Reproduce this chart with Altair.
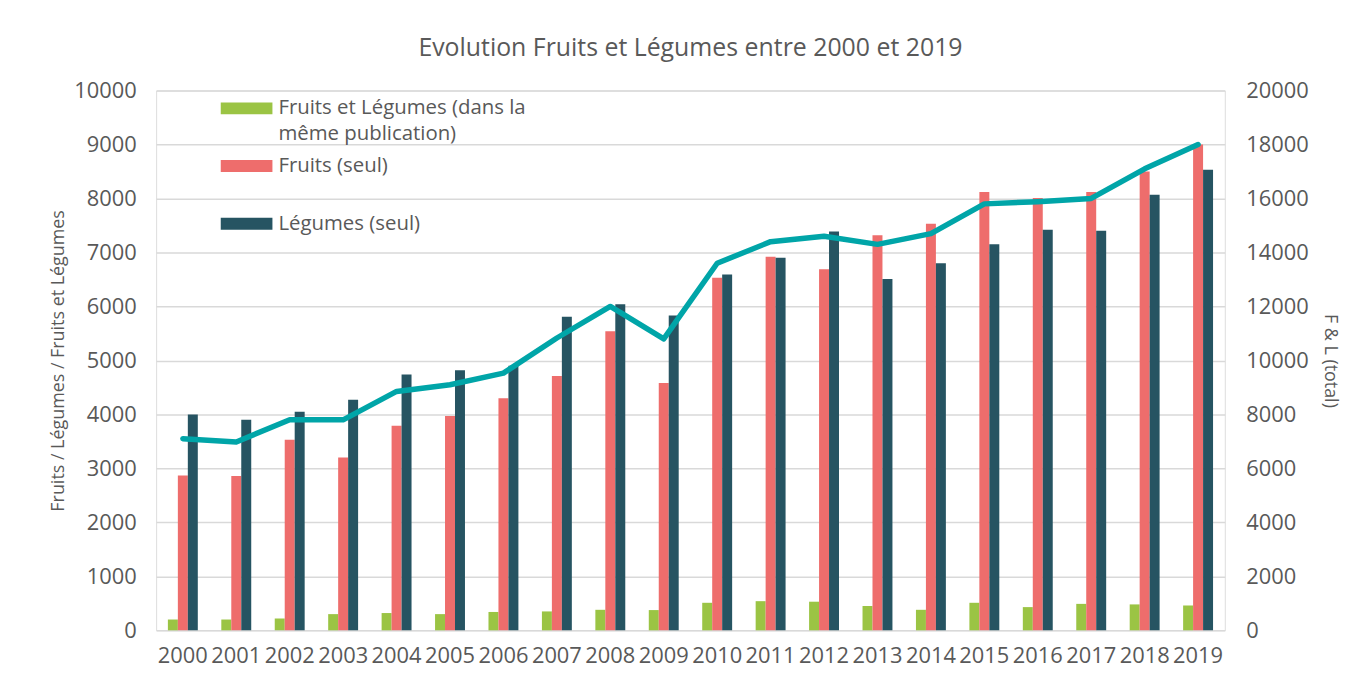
import altair as alt
import pandas as pd

years = [str(y) for y in range(2000, 2020)]
fl_meme = [200, 200, 220, 300, 320, 300, 340, 350, 380, 375,
           510, 540, 530, 450, 380, 510, 430, 490, 480, 460]
fruits = [2870, 2860, 3530, 3200, 3790, 3970, 4300, 4710, 5540, 4580,
          6530, 6920, 6690, 7320, 7530, 8120, 8010, 8120, 8500, 9000]
legumes = [4000, 3900, 4050, 4270, 4740, 4820, 4900, 5810, 6040, 5830,
           6590, 6900, 7390, 6510, 6800, 7150, 7420, 7400, 8070, 8530]
total = [7100, 6980, 7800, 7800, 8850, 9100, 9530, 10830, 12000, 10800,
         13600, 14400, 14600, 14300, 14700, 15800, 15880, 16000, 17100, 18000]

series_names = ["Fruits et Légumes (dans la même publication)", "Fruits (seul)", "Légumes (seul)"]
colors = ["#9BC444", "#EE6D6C", "#265462"]
line_color = "#00A5A8"
txt = "#595959"
font = "Open Sans"

rows = []
for name, vals in zip(series_names, [fl_meme, fruits, legumes]):
    for yr, v in zip(years, vals):
        rows.append({"year": yr, "serie": name, "value": v})
bars_df = pd.DataFrame(rows)
line_df = pd.DataFrame({"year": years, "total": total})

x_enc = alt.X(
    "year:N",
    sort=years,
    scale=alt.Scale(paddingInner=0.44, paddingOuter=0.22),
    axis=alt.Axis(title=None, labelAngle=0, labelFontSize=22, labelColor=txt,
                  labelFont=font, labelPadding=15, ticks=False, domain=False, grid=False),
)

label_expr = ("datum.label == 'Fruits et Légumes (dans la même publication)' ? "
              "['Fruits et Légumes (dans la', 'même publication)'] : [datum.label, '']")

bars = alt.Chart(bars_df).mark_bar().encode(
    x=x_enc,
    xOffset=alt.XOffset("serie:N", sort=series_names,
                        scale=alt.Scale(paddingInner=0, paddingOuter=0)),
    y=alt.Y("value:Q",
            scale=alt.Scale(domain=[0, 10000], nice=False),
            axis=alt.Axis(title="Fruits / Légumes / Fruits et Légumes",
                          values=list(range(0, 10001, 1000)), format="d",
                          labelFontSize=22, labelColor=txt, labelFont=font,
                          labelPadding=20, ticks=False, domain=False,
                          grid=True, gridColor="#D9D9D9", gridWidth=1.5,
                          titleFontSize=18, titleFontWeight="normal",
                          titleColor=txt, titleFont=font, titlePadding=6)),
    color=alt.Color("serie:N",
                    scale=alt.Scale(domain=series_names, range=colors),
                    legend=alt.Legend(
                        title=None, orient="none", legendX=76, legendY=3,
                        padding=0, rowPadding=6,
                        symbolType="M-1.733,-0.4L1.733,-0.4L1.733,0.4L-1.733,0.4Z",
                        symbolSize=900, symbolStrokeWidth=0,
                        labelExpr=label_expr, labelFontSize=20.5,
                        labelFont=font, labelColor=txt, labelLimit=500,
                        labelOffset=17)),
)

line = alt.Chart(line_df).mark_line(
    color=line_color, strokeWidth=5.5, strokeCap="round", strokeJoin="round"
).encode(
    x=x_enc,
    y=alt.Y("total:Q",
            scale=alt.Scale(domain=[0, 20000], nice=False),
            axis=alt.Axis(title="F & L (total)", orient="right",
                          values=list(range(0, 20001, 2000)), format="d",
                          labelFontSize=22, labelColor=txt, labelFont=font,
                          labelPadding=21, ticks=False, domain=False, grid=False,
                          titleFontSize=18, titleFontWeight="normal",
                          titleColor=txt, titleFont=font, titlePadding=12)),
)

chart = alt.layer(bars, line).resolve_scale(y="independent").properties(
    width=1075,
    height=543,
    title=alt.TitleParams("Evolution Fruits et Légumes entre 2000 et 2019",
                          fontSize=25, font=font, color=txt,
                          fontWeight="normal", anchor="middle", offset=19),
    autosize=alt.AutoSizeParams(type="none"),
    padding={"left": 149, "top": 81, "right": 136, "bottom": 52},
).configure_view(stroke=None).configure(
    background="white",
    style={"guide-label": {"lineHeight": 26}},
)

chart.save("out.html", embed_options={"renderer": "svg", "actions": False})
